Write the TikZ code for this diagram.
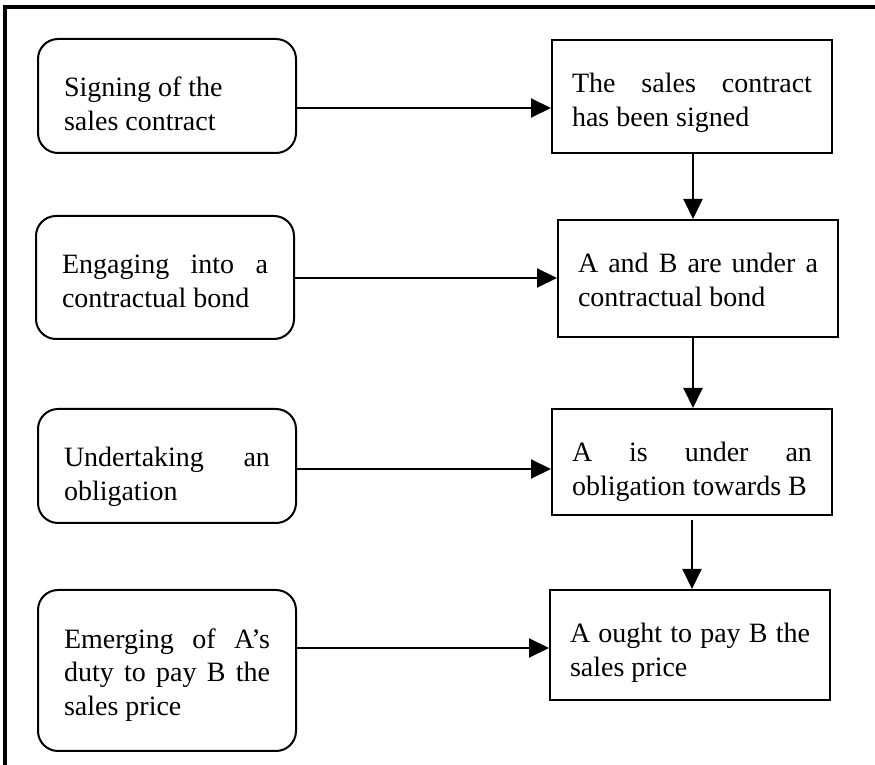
\documentclass[tikz,border=0pt]{standalone}
\usepackage{fontspec}
\setmainfont{Liberation Serif}
\usepackage{tikz}
\usetikzlibrary{positioning, arrows.meta}

\begin{document}
\begin{tikzpicture}[x=0.5pt, y=-0.5pt,
  event/.style={draw, line width=1pt, rounded corners=10pt, anchor=north west,
    align=justify, text width=103pt, inner xsep=13pt, inner ysep=0pt,
    text height=29pt, font=\fontsize{14}{16.8}\selectfont},
  state/.style={draw, line width=1pt, anchor=north west,
    align=justify, text width=120pt, inner xsep=10pt, inner ysep=0pt,
    text height=26.5pt, font=\fontsize{14}{16.8}\selectfont},
  flow/.style={-{Triangle[length=10pt, width=9.5pt]}, line width=1pt}]
\useasboundingbox (0,0) rectangle (875,765);
\draw[line width=2pt] (5,765) -- (5,7) -- (875,7);

\node[event, text depth=28pt] (sign) at (37,38) {Signing of the\\ sales contract};
\node[event, text depth=32.5pt] (engage) at (35,215) {Engaging into a\linebreak contractual bond};
\node[event, text depth=28pt] (undertake) at (37,408) {Undertaking an\linebreak obligation};
\node[event, text depth=51.5pt] (emerge) at (37,589) {Emerging of A’s\linebreak duty to pay B the\linebreak sales price};

\node[state, text depth=30pt] (signed) at (551,39) {The sales contract\linebreak has been signed};
\node[state, text depth=32pt] (bond) at (557,219) {A and B are under a\linebreak contractual bond};
\node[state, text depth=26.5pt] (oblig) at (551,408) {A is under an\linebreak obligation towards B};
\node[state, text depth=28.5pt] (ought) at (549,589) {A ought to pay B the\linebreak sales price};

\coordinate (y1) at (0,108);
\coordinate (y2) at (0,278);
\coordinate (y3) at (0,469);
\coordinate (y4) at (0,648);
\coordinate (spine) at (693,0);

\draw[flow] (sign.east |- y1) -- (signed.west |- y1);
\draw[flow] (engage.east |- y2) -- (bond.west |- y2);
\draw[flow] (undertake.east |- y3) -- (oblig.west |- y3);
\draw[flow] (emerge.east |- y4) -- (ought.west |- y4);

\draw[flow] (signed.south -| spine) -- (bond.north -| spine);
\draw[flow] (bond.south -| spine) -- (oblig.north -| spine);
\draw[flow, shorten <=2pt] (oblig.south) -- (oblig.south |- ought.north);
\end{tikzpicture}
\end{document}
